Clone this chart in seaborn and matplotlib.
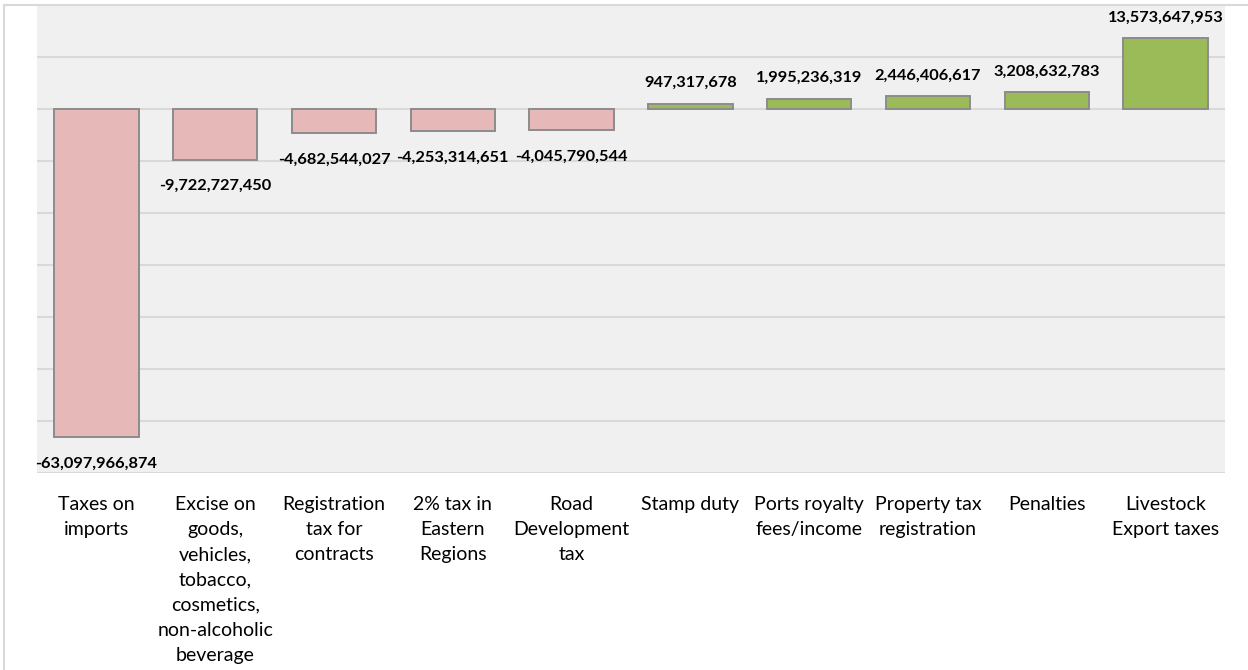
import numpy as np
import pandas as pd
import matplotlib.pyplot as plt
import seaborn as sns
from matplotlib.lines import Line2D

# ==========================================
# Data
# ==========================================

categories = [
    "Taxes on\nimports",
    "Excise on\ngoods,\nvehicles,\ntobacco,\ncosmetics,\nnon-alcoholic\nbeverage",
    "Registration\ntax for\ncontracts",
    "2% tax in\nEastern\nRegions",
    "Road\nDevelopment\ntax",
    "Stamp duty",
    "Ports royalty\nfees/income",
    "Property tax\nregistration",
    "Penalties",
    "Livestock\nExport taxes",
]

values = [
    -63097966874, -9722727450, -4682544027, -4253314651, -4045790544,
    947317678, 1995236319, 2446406617, 3208632783, 13573647953,
]

df = pd.DataFrame({"category": categories, "value": values})
df["sign"] = np.where(df["value"] < 0, "neg", "pos")

# ==========================================
# Plot
# ==========================================

sns.set_style("white")
plt.rcParams["font.family"] = ["Lato", "DejaVu Sans"]

fig = plt.figure(figsize=(12.48, 6.7), dpi=100)
ax = fig.add_axes([0.0296, 0.294, 0.952, 0.6985])
ax.set_facecolor("#f0f0f0")

sns.barplot(
    data=df, x="category", y="value", hue="sign",
    palette={"neg": "#e6b8b7", "pos": "#9bbb59"}, saturation=1,
    dodge=False, width=0.71, edgecolor="#8c8c8c", linewidth=1.4,
    legend=False, ax=ax, zorder=3,
)

ax.set_ylim(-70e9, 20e9)
ax.set_xlim(-0.5, len(categories) - 0.5)
ax.set_yticks(np.arange(-70e9, 20e9 + 1, 10e9))
ax.yaxis.grid(True, color="#d9d9d9", linewidth=1.5, zorder=0)
ax.set_axisbelow(True)
ax.tick_params(axis="y", left=False, labelleft=False)
ax.tick_params(axis="x", bottom=False, labelsize=14, pad=13)
for lbl in ax.get_xticklabels():
    lbl.set_linespacing(1.58)
    lbl.set_color("#000000")
ax.set_xlabel("")
ax.set_ylabel("")
for s in ax.spines.values():
    s.set_visible(False)

# value labels
for i, v in enumerate(values):
    off = 15 if v > 0 else -19
    ax.annotate(f"{v:,}", (i, v), xytext=(0, off), textcoords="offset points",
                ha="center", va="center", fontsize=11.8, fontweight="bold",
                color="#000000", zorder=5)

# chart frame lines
fig.add_artist(Line2D([4 / 1248, 4 / 1248], [0, 1 - 5 / 670], transform=fig.transFigure,
                      color="#d9d9d9", linewidth=1.5))
fig.add_artist(Line2D([4 / 1248, 1], [1 - 5 / 670, 1 - 5 / 670], transform=fig.transFigure,
                      color="#d9d9d9", linewidth=1.5))

fig.savefig("out.png", dpi=100)
